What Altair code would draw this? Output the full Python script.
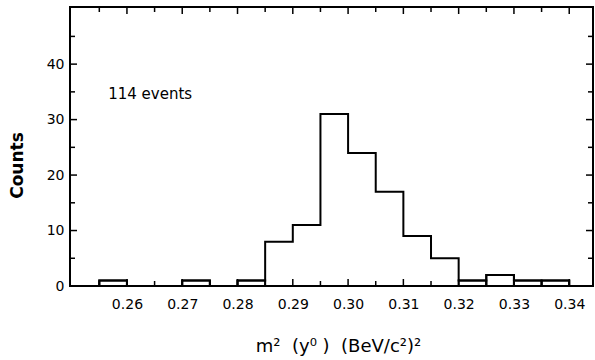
import altair as alt
import pandas as pd

# ---- data ----
bin_lo = [0.250, 0.255, 0.260, 0.265, 0.270, 0.275, 0.280, 0.285, 0.290, 0.295,
          0.300, 0.305, 0.310, 0.315, 0.320, 0.325, 0.330, 0.335]
counts = [0, 1, 0, 0, 1, 0, 1, 8, 11, 31, 24, 17, 9, 5, 1, 2, 1, 1]
bin_width = 0.005

x_major = [0.26, 0.27, 0.28, 0.29, 0.30, 0.31, 0.32, 0.33, 0.34]
x_minor = [0.255, 0.265, 0.275, 0.285, 0.295, 0.305, 0.315, 0.325, 0.335]
y_major = [10, 20, 30, 40]
y_minor = [5, 15, 25, 35, 45]
y_labels = [0, 10, 20, 30, 40]

note_text = "114 events"
note_x = [0.2566]
note_y = [34.6]

NB = "\u00a0"
x_title = f"m²{NB}{NB}(y⁰{NB}){NB}{NB}(BeV/c²)²"
y_title = "Counts"

# ---- layout ----
W, H = 523, 279
FONT = "DejaVu Sans"
xs = alt.Scale(domain=[0.2497, 0.3443], nice=False, zero=False)
ys = alt.Scale(domain=[0, 50.3], nice=False, zero=False)

hist = pd.DataFrame({"lo": bin_lo, "count": counts})
hist["hi"] = hist["lo"] + bin_width
step = pd.DataFrame({"x": bin_lo + [bin_lo[-1] + bin_width],
                     "y": counts + [0]})

outline = alt.Chart(step).mark_line(
    interpolate="step-after", color="black", strokeWidth=2, clip=True
).encode(
    x=alt.X("x:Q", scale=xs,
            axis=alt.Axis(values=x_major, format=".2f", ticks=False, tickSize=0,
                          domain=False, grid=False, labelFont=FONT, labelFontSize=14,
                          labelColor="black", labelPadding=11, title=x_title,
                          titleFont=FONT, titleFontSize=18, titleFontWeight="normal",
                          titleColor="black", titleX=268, titleY=65,
                          titleBaseline="alphabetic", titleAlign="center")),
    y=alt.Y("y:Q", scale=ys,
            axis=alt.Axis(values=y_labels, format="d", ticks=False, tickSize=0,
                          domain=False, grid=False, labelFont=FONT, labelFontSize=14,
                          labelColor="black", labelPadding=6, title=y_title,
                          titleFont=FONT, titleFontSize=17, titleFontWeight="bold",
                          titleColor="black", titleAngle=270, titleX=-53, titleY=158,
                          titleBaseline="middle", titleAlign="center")),
)

boxes = alt.Chart(hist).transform_filter(
    "datum.count > 0 && datum.count <= 2"
).mark_rect(fill=None, fillOpacity=0, stroke="black", strokeWidth=2).encode(
    x=alt.X("lo:Q", scale=xs, axis=None),
    x2="hi:Q",
    y=alt.Y("count:Q", scale=ys, axis=None),
    y2=alt.datum(0),
)

def xticks(vals, length):
    df = pd.DataFrame({"v": vals})
    bottom = alt.Chart(df).mark_rule(color="black", strokeWidth=1.5).encode(
        x=alt.X("v:Q", scale=xs, axis=None),
        y=alt.value(H), y2=alt.value(H - length))
    top = alt.Chart(df).mark_rule(color="black", strokeWidth=1.5).encode(
        x=alt.X("v:Q", scale=xs, axis=None),
        y=alt.value(0), y2=alt.value(length))
    return [bottom, top]

def yticks(vals, length):
    df = pd.DataFrame({"v": vals})
    left = alt.Chart(df).mark_rule(color="black", strokeWidth=1.5).encode(
        y=alt.Y("v:Q", scale=ys, axis=None),
        x=alt.value(0), x2=alt.value(length))
    right = alt.Chart(df).mark_rule(color="black", strokeWidth=1.5).encode(
        y=alt.Y("v:Q", scale=ys, axis=None),
        x=alt.value(W), x2=alt.value(W - length))
    return [left, right]

note = alt.Chart(pd.DataFrame({"x": note_x, "y": note_y, "t": [note_text]})).mark_text(
    font=FONT, fontSize=15, align="left", baseline="middle", color="black"
).encode(
    x=alt.X("x:Q", scale=xs, axis=None),
    y=alt.Y("y:Q", scale=ys, axis=None),
    text="t:N",
)

layers = ([outline, boxes] + xticks(x_major, 7) + xticks(x_minor, 5)
          + yticks(y_major, 7) + yticks(y_minor, 5) + [note])

chart = alt.layer(*layers).resolve_axis(
    x="independent", y="independent"
).properties(
    width=W, height=H,
    autosize=alt.AutoSizeParams(type="none"),
    padding={"left": 70, "top": 7, "right": 2, "bottom": 74},
    background="white",
).configure_view(stroke="black", strokeWidth=2)

chart.save("out.html", embed_options={"renderer": "svg", "actions": False})
